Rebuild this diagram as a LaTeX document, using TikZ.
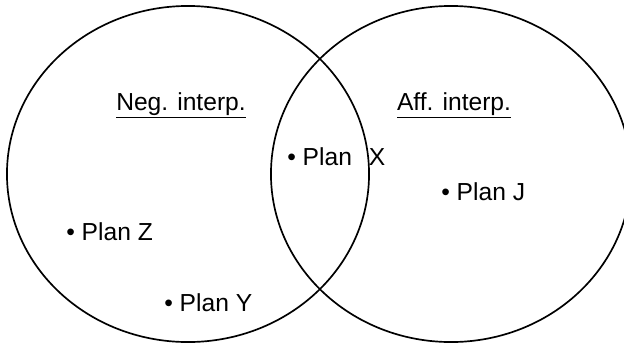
\documentclass[tikz,border=0pt]{standalone}
\usepackage{fontspec}
\setmainfont{Liberation Sans}
\usetikzlibrary{shapes.geometric}
\tikzset{
  venn/.style   ={draw, ellipse, line width=1.2pt, inner sep=0pt, minimum width=9.05cm, minimum height=8.4cm},
  head/.style   ={anchor=base, inner sep=0pt, font=\fontsize{17.5}{20}\selectfont},
  plan/.style   ={anchor=base west, inner sep=0pt, font=\fontsize{17.5}{20}\selectfont},
}
\begin{document}
\begin{tikzpicture}[x=0.025cm, y=-0.025cm]
  \useasboundingbox (0,0) rectangle (624,349);
  % the two sets
  \node[venn] (neg) at (188,174) {};
  \node[venn, minimum width=9.0cm] (aff) at (451,174) {};

  % headings
  \node[head] (neghd) at (181,110.5) {\underline{Neg. interp.}};
  \node[head] (affhd) at (454,110.5) {\underline{Aff. interp.}};

  % plans
  \node[plan] (px) at (287,165) {\textbullet\ Plan\hspace{0.42cm}X};
  \node[plan] (pj) at (441,200) {\textbullet\ Plan J};
  \node[plan] (pz) at (66,240)  {\textbullet\ Plan Z};
  \node[plan] (py) at (164,311) {\textbullet\ Plan Y};
\end{tikzpicture}
\end{document}
